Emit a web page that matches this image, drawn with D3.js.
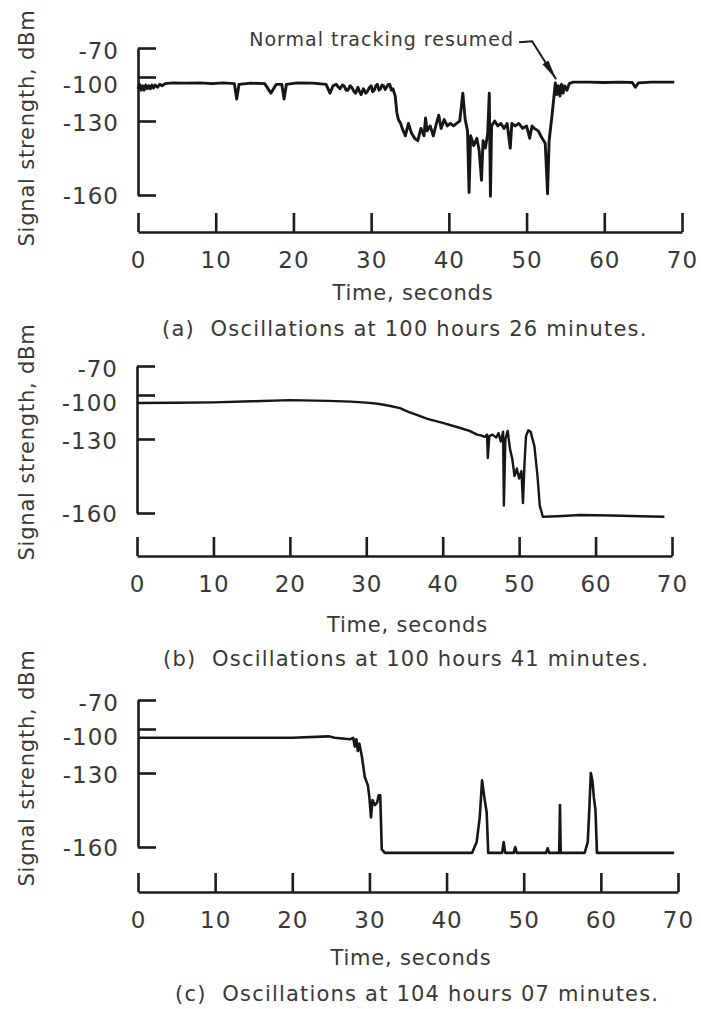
<!DOCTYPE html>
<html>
<head>
<meta charset="utf-8">
<script src="https://cdn.jsdelivr.net/npm/d3@7"></script>
<style>
  html, body { margin: 0; padding: 0; background: #fff; }
  svg { display: block; font-family: "DejaVu Sans", sans-serif; }
  .axis path, .axis line { stroke: #1c1c1c; stroke-width: 2.6; }
  .axis text { fill: #383838; }
  .label { fill: #383838; }
  .trace { fill: none; stroke: #161616; stroke-linejoin: round; }
</style>
</head>
<body>
<div id="chart"></div>
<script>
'use strict';

// Ticks shared by all three panels
const timeTicks = [0, 10, 20, 30, 40, 50, 60, 70];
const signalTicks = [-70, -100, -130, -160];

// (a) 100 h 26 min - [time s, signal dBm]
const traceA = [
  [0, -108], [0.2, -105], [0.4, -109], [0.6, -106], [0.8, -109], [1.0, -105.5], [1.2, -108],
  [1.4, -106], [1.6, -108], [1.8, -105.5], [2.0, -107.5], [2.2, -105.5], [2.5, -107],
  [2.8, -105], [3.1, -106], [3.5, -104.5], [4.5, -104], [6, -104.2], [8, -104], [9.5, -104.5],
  [11, -104], [12.4, -104.5], [12.7, -115], [13, -105], [14.5, -104.2], [16.3, -104.5],
  [17.1, -111], [17.8, -105], [18.5, -105], [18.8, -115], [19.1, -105], [20.5, -104],
  [22.5, -104.2], [24.2, -105], [24.7, -111], [25.1, -106], [25.5, -105], [25.8, -107],
  [26, -108], [26.3, -105.5], [26.5, -106], [26.8, -109], [27, -109], [27.3, -106],
  [27.5, -107], [27.8, -110], [28, -111], [28.3, -107], [28.5, -110], [28.7, -112], [29, -108],
  [29.3, -111], [29.5, -110], [29.8, -107], [30, -106], [30.2, -110], [30.4, -109],
  [30.6, -106], [30.8, -105], [31, -109], [31.2, -108], [31.4, -105.5], [31.6, -106],
  [31.8, -108.5], [32, -107], [32.2, -105], [32.4, -105], [32.6, -109], [32.8, -108],
  [33.1, -113], [33.3, -124], [33.5, -129], [33.8, -131], [34, -133],
  [34.4, -136], [34.8, -131], [35.2, -135], [35.6, -137], [36, -138], [36.4, -133],
  [36.8, -136], [37, -128], [37.2, -134], [37.6, -132], [38, -136], [38.4, -131],
  [38.7, -126], [39, -133], [39.4, -129], [39.8, -132], [40.2, -131], [40.6, -132],
  [41, -131], [41.4, -130], [41.8, -111], [42.1, -129], [42.4, -134], [42.6, -159],
  [42.8, -136], [43.2, -140], [43.6, -137], [43.9, -142], [44.2, -154], [44.4, -138],
  [44.7, -141], [45, -135], [45.2, -111], [45.35, -160.5], [45.5, -132], [45.9, -130],
  [46.3, -132], [46.7, -131], [47.1, -133], [47.5, -131], [47.9, -141], [48.1, -131],
  [48.5, -132], [49, -131], [49.5, -133], [50, -132], [50.4, -137], [50.7, -132], [51, -133],
  [51.5, -134], [52, -137], [52.4, -139], [52.7, -159.5], [52.9, -138], [53.3, -125],
  [53.7, -104], [53.9, -112], [54.1, -106], [54.3, -113], [54.5, -105], [54.7, -111],
  [54.9, -106], [55.2, -109], [55.5, -104.5], [56, -103.5], [58, -103.5], [60, -103.8],
  [62, -103.5], [63.6, -103.8], [64, -107], [64.4, -104], [66, -103.5], [69, -103.5]
];

// (b) 100 h 41 min
const traceB = [
  [0, -105.5], [5, -105.3], [10, -105], [15, -104.3], [20, -103.5], [25, -104], [28, -104.5],
  [30, -105.2], [31.5, -106], [33, -107.3], [34.4, -109], [35.5, -111.5], [36.6, -113.6],
  [38, -116.3], [40, -119], [42.3, -122.5], [43.5, -124.5], [44.5, -127], [45, -127.5],
  [45.5, -128.5], [45.8, -127], [45.9, -137.7], [46.1, -128], [46.5, -127], [47, -129],
  [47.3, -126], [47.6, -131], [47.9, -125], [48, -157], [48.2, -130], [48.5, -124.5],
  [48.8, -134], [49.1, -138], [49.4, -145], [49.7, -142], [50, -146], [50.3, -143],
  [50.5, -156], [50.7, -140], [50.9, -128], [51.2, -124], [51.5, -125], [52, -133],
  [52.4, -145], [52.7, -157], [53.1, -161.5], [55, -161.3], [58, -160.8], [62, -161],
  [66, -161.3], [69, -161.5]
];

// (c) 104 h 07 min
const traceC = [
  [0, -106], [5, -106], [10, -106], [15, -106], [20, -106], [24.7, -105], [25.5, -106],
  [27.5, -107], [27.9, -106], [28.1, -112], [28.3, -107], [28.5, -115], [28.7, -110],
  [29, -118], [29.4, -131.6], [29.8, -135], [30, -140], [30.2, -148], [30.4, -141],
  [30.7, -143], [31, -142], [31.2, -139], [31.4, -139], [31.6, -161], [32, -162.4],
  [43.3, -162.4], [43.9, -158], [44.3, -148], [44.6, -133], [44.9, -140], [45.2, -146],
  [45.4, -162.4], [47.2, -162.4], [47.4, -158], [47.6, -162.4], [48.7, -162.4], [48.9, -160],
  [49.1, -162.4], [52.9, -162.4], [53.1, -160.5], [53.3, -162.4], [54.6, -162.4], [54.7, -143],
  [54.8, -162.4], [57.9, -162.4], [58.3, -158], [58.5, -145], [58.7, -130], [58.9, -133],
  [59.1, -140], [59.3, -145], [59.5, -162.4], [69.5, -162.4]
];

const captions = [
  "(a)  Oscillations at 100 hours 26 minutes.",
  "(b)  Oscillations at 100 hours 41 minutes.",
  "(c)  Oscillations at 104 hours 07 minutes."
];
const yTitle = "Signal strength, dBm";
const xTitle = "Time, seconds";

// annotation on panel (a)
const noteText = "Normal tracking resumed";
const noteTime = 53.8;
const noteSignal = -101.5;

const width = 701, height = 1009;

// the recorder's dBm axis is not linear: pixel drop below the -70 tick
const tickDrop = { "-70": 0, "-100": 29, "-130": 73, "-160": 147 };
const labelShift = { "-70": 3, "-100": 8, "-130": 2, "-160": 1 };

const panels = [
  { trace: traceA, top: 48, axisY: 232, left: 138, w: 544, lw: 2.9,
    xTitleY: 300, captionX: 162, captionY: 336, yTitleY: 128 },
  { trace: traceB, top: 366, axisY: 556, left: 137, w: 535, lw: 2.4,
    xTitleY: 632, captionX: 163, captionY: 666, yTitleY: 442 },
  { trace: traceC, top: 700, axisY: 892, left: 138, w: 540, lw: 2.6,
    xTitleY: 965, captionX: 175, captionY: 1001, yTitleY: 768 }
];

const svg = d3.select("#chart").append("svg")
  .attr("width", width)
  .attr("height", height);

panels.forEach(function(p, i) {
  const x = d3.scaleLinear().domain([0, 70]).range([p.left, p.left + p.w]);

  const ySorted = signalTicks.slice().sort(d3.ascending);
  const y = d3.scaleLinear()
    .domain(ySorted)
    .range(ySorted.map(function(v) { return p.top + tickDrop[v]; }));

  // Y axis with ticks pointing into the plot
  const yAxis = d3.axisLeft(y)
    .tickValues(signalTicks)
    .tickSizeInner(-18)
    .tickSizeOuter(0)
    .tickPadding(19)
    .tickFormat(function(d) { return String(d); });

  const gy = svg.append("g")
    .attr("class", "axis")
    .attr("transform", "translate(" + p.left + ",0)")
    .call(yAxis);
  gy.attr("font-family", null).attr("font-size", null);
  gy.selectAll("text")
    .attr("font-size", "23px")
    .attr("letter-spacing", "1px")
    .attr("y", function(d) { return labelShift[d]; });

  // X axis, separated below the plot, ticks pointing up
  const xAxis = d3.axisBottom(x)
    .tickValues(timeTicks)
    .tickSizeInner(-19)
    .tickSizeOuter(0)
    .tickPadding(20);

  const gx = svg.append("g")
    .attr("class", "axis")
    .attr("transform", "translate(0," + p.axisY + ")")
    .call(xAxis);
  gx.attr("font-family", null).attr("font-size", null);
  gx.selectAll("text")
    .attr("font-size", "23px")
    .attr("letter-spacing", "1px");

  // Trace
  const line = d3.line()
    .x(function(d) { return x(d[0]); })
    .y(function(d) { return y(d[1]); });

  svg.append("path")
    .datum(p.trace)
    .attr("class", "trace")
    .attr("stroke-width", p.lw)
    .attr("d", line);

  // Titles
  svg.append("text")
    .attr("class", "label")
    .attr("transform", "translate(27," + p.yTitleY + ") rotate(-90)")
    .attr("text-anchor", "middle")
    .attr("dominant-baseline", "central")
    .attr("font-size", "21px")
    .attr("letter-spacing", "0.8px")
    .text(yTitle);

  svg.append("text")
    .attr("class", "label")
    .attr("x", p.left + p.w * 0.5 + 3)
    .attr("y", p.xTitleY)
    .attr("text-anchor", "middle")
    .attr("font-size", "21px")
    .attr("letter-spacing", "0.8px")
    .text(xTitle);

  svg.append("text")
    .attr("class", "label")
    .attr("x", p.captionX)
    .attr("y", p.captionY)
    .attr("font-size", "21px")
    .attr("letter-spacing", "1.2px")
    .attr("xml:space", "preserve")
    .style("white-space", "pre")
    .text(captions[i]);

  if (i === 0) {
    drawNote(x, y);
  }
});

function drawNote(x, y) {
  const tipX = x(noteTime), tipY = y(noteSignal);
  const bendX = tipX - 24, bendY = tipY - 38;

  svg.append("text")
    .attr("class", "label")
    .attr("x", bendX - 18)
    .attr("y", bendY + 5)
    .attr("text-anchor", "end")
    .attr("font-size", "19px")
    .attr("letter-spacing", "1px")
    .text(noteText);

  svg.append("path")
    .attr("fill", "none")
    .attr("stroke", "#1c1c1c")
    .attr("stroke-width", 2)
    .attr("d", "M" + (bendX - 13) + "," + (bendY + 1) + "L" + bendX + "," + bendY + "L" + tipX + "," + tipY);

  // narrow arrow head along the leader
  const ang = Math.atan2(tipY - bendY, tipX - bendX);
  const len = 20, half = 3.5;
  const bx = tipX - len * Math.cos(ang), by = tipY - len * Math.sin(ang);
  const nx = -Math.sin(ang) * half, ny = Math.cos(ang) * half;
  svg.append("path")
    .attr("fill", "#1c1c1c")
    .attr("d", "M" + tipX + "," + tipY + "L" + (bx + nx) + "," + (by + ny) + "L" + (bx - nx) + "," + (by - ny) + "Z");
}
</script>
</body>
</html>
